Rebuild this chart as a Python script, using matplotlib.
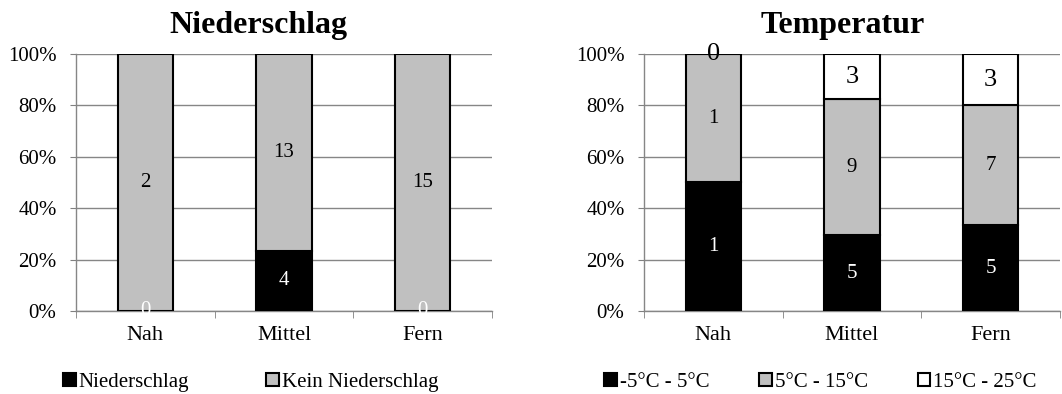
import numpy as np
import matplotlib
matplotlib.use("Agg")
import matplotlib.pyplot as plt

plt.rcParams['font.family'] = ['Liberation Serif', 'DejaVu Serif']

categories = ["Nah", "Mittel", "Fern"]

# Niederschlag counts
nied_labels = ["Niederschlag", "Kein Niederschlag"]
nied_ja = [0, 4, 0]
nied_nein = [2, 13, 15]

# Temperatur counts
temp_labels = ["-5°C - 5°C", "5°C - 15°C", "15°C - 25°C"]
temp_kalt = [1, 5, 5]
temp_mild = [1, 9, 7]
temp_warm = [0, 3, 3]

fills = ["#000000", "#C0C0C0", "#FFFFFF"]
text_cols = ["white", "black", "black"]
label_sizes = [15, 15, 19]


def stacked(ax, series, names, title, title_x, leg_x, leg_spacing):
    data = np.array(series, dtype=float)
    totals = data.sum(axis=0)
    pct = data / totals * 100
    x = np.arange(len(categories))
    bottom = np.zeros(len(categories))
    handles = []
    for i, (row, vals) in enumerate(zip(pct, data)):
        bars = ax.bar(x, row, 0.4, bottom=bottom, color=fills[i],
                      edgecolor="black", linewidth=1.5, zorder=3, label=names[i])
        handles.append(bars)
        size = label_sizes[i] if len(series) == 3 else 15
        for xi, b, h, v in zip(x, bottom, row, vals):
            ax.text(xi, b + h / 2, "%d" % v, ha="center", va="center",
                    color=text_cols[i], fontsize=size, zorder=4)
        bottom = bottom + row
    ax.set_xlim(-0.5, 2.5)
    ax.set_ylim(0, 100)
    ax.set_yticks(np.arange(0, 101, 20))
    ax.set_yticklabels(["%d%%" % v for v in range(0, 101, 20)], fontsize=15)
    ax.set_xticks(x)
    ax.set_xticklabels(categories, fontsize=16)
    ax.set_xticks([-0.5, 0.5, 1.5, 2.5], minor=True)
    ax.tick_params(axis="x", which="major", length=0, pad=11)
    ax.tick_params(axis="x", which="minor", length=5, color="#808080")
    ax.tick_params(axis="y", length=4, color="#808080", pad=10)
    ax.grid(axis="y", color="#868686", linewidth=1, zorder=0)
    for s in ["top", "right"]:
        ax.spines[s].set_visible(False)
    for s in ["left", "bottom"]:
        ax.spines[s].set_color("#868686")
        ax.spines[s].set_linewidth(1)
    ax.set_title(title, fontsize=23, fontweight="bold", pad=15, x=title_x)
    ax.legend(handles=handles, loc="center left", bbox_to_anchor=(leg_x, -0.278),
              ncol=len(series), frameon=False, fontsize=15, handlelength=0.6,
              handleheight=0.6, handletextpad=0.15, columnspacing=leg_spacing,
              borderpad=0, borderaxespad=0)


fig = plt.figure(figsize=(10.62, 3.94), dpi=100)
ax1 = fig.add_axes([0.0716, 0.2107, 0.3917, 0.6523])
ax2 = fig.add_axes([0.6064, 0.2107, 0.3917, 0.6523])

stacked(ax1, [nied_ja, nied_nein], nied_labels, "Niederschlag", 0.4375, -0.031, 3.7)
stacked(ax2, [temp_kalt, temp_mild, temp_warm], temp_labels, "Temperatur", 0.478, -0.096, 2.4)

fig.savefig("out.png", dpi=100)
